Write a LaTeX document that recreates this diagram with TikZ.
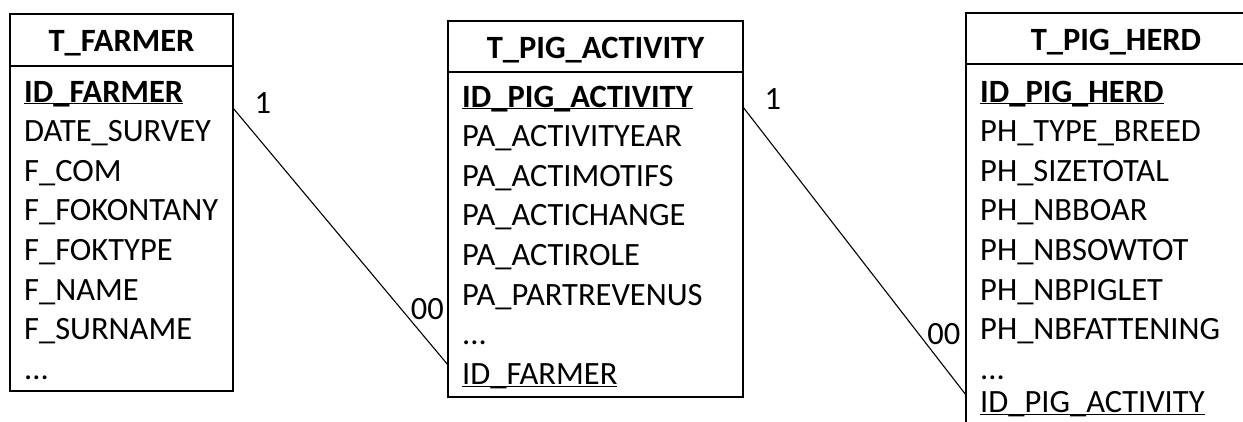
\documentclass[tikz,border=0pt]{standalone}
\usepackage{fontspec}
\setmainfont{Carlito}
\usetikzlibrary{positioning}
\newcommand{\keyline}[1]{\underline{\raisebox{0pt}[\height][0pt]{#1}}}

\begin{document}
\begin{tikzpicture}[x = 1pt, y = 1pt, node distance = 0pt,
		every node/.style = { font = \fontsize{32.5}{39}\selectfont },
		tabhead/.style = { draw, line width = 1.8pt, outer sep = 0pt, inner sep = 0pt, anchor = north west, minimum height = 52pt, text height = 24pt, text depth = 0pt, font = \fontsize{32.5}{39}\selectfont\bfseries },
		tabbody/.style = { draw, line width = 1.8pt, outer sep = 0pt, inner sep = 0pt },
		field/.style = { inner sep = 0pt, align = left, text width = 280pt, text height = 27.2pt, text depth = 12pt },
		card/.style = { inner sep = 0pt, anchor = base west },
		link/.style = { line width = 1.1pt }]
	\useasboundingbox (0, 0) rectangle (1243, 421);

	% T_FARMER
	\node [tabhead, minimum width = 223pt] (fhead) at (10, 407) {T\_FARMER};
	\node [tabbody, minimum width = 223pt, minimum height = 325pt, below = of fhead] (fbody) {};
	\node [field, below right = 8.8pt and 14pt of fbody.north west] (f1) {\keyline{\textbf{ID\_FARMER}}};
	\node [field, below = of f1] (f2) {DATE\_SURVEY};
	\node [field, below = of f2] (f3) {F\_COM};
	\node [field, below = of f3] (f4) {F\_FOKONTANY};
	\node [field, below = of f4] (f5) {F\_FOKTYPE};
	\node [field, below = of f5] (f6) {F\_NAME};
	\node [field, below = of f6] (f7) {F\_SURNAME};
	\node [field, below = of f7] (f8) {...};

	% T_PIG_ACTIVITY
	\node [tabhead, minimum width = 295pt, minimum height = 51pt] (ahead) at (448, 400) {T\_PIG\_ACTIVITY};
	\node [tabbody, minimum width = 295pt, minimum height = 325pt, below = of ahead] (abody) {};
	\node [field, below right = 7.8pt and 14pt of abody.north west] (a1) {\keyline{\textbf{ID\_PIG\_ACTIVITY}}};
	\node [field, below = of a1] (a2) {PA\_ACTIVITYEAR};
	\node [field, below = of a2] (a3) {PA\_ACTIMOTIFS};
	\node [field, below = of a3] (a4) {PA\_ACTICHANGE};
	\node [field, below = of a4] (a5) {PA\_ACTIROLE};
	\node [field, below = of a5] (a6) {PA\_PARTREVENUS};
	\node [field, below = of a6] (a7) {...};
	\node [field, below = of a7] (a8) {\keyline{ID\_FARMER}};

	% T_PIG_HERD (runs off the right and bottom edges)
	\node [tabhead, minimum width = 300pt, minimum height = 51pt] (hhead) at (966, 408) {T\_PIG\_HERD};
	\node [tabbody, minimum width = 300pt, minimum height = 380pt, below = of hhead] (hbody) {};
	\node [field, below right = 10.8pt and 14pt of hbody.north west] (h1) {\keyline{\textbf{ID\_PIG\_HERD}}};
	\node [field, below = of h1] (h2) {PH\_TYPE\_BREED};
	\node [field, below = of h2] (h3) {PH\_SIZETOTAL};
	\node [field, below = of h3] (h4) {PH\_NBBOAR};
	\node [field, below = of h4] (h5) {PH\_NBSOWTOT};
	\node [field, below = of h5] (h6) {PH\_NBPIGLET};
	\node [field, below = of h6] (h7) {PH\_NBFATTENING};
	\node [field, below = of h7] (h8) {...};
	\node [field, below = -6.2pt of h8] (h9) {\keyline{ID\_PIG\_ACTIVITY}};

	\draw [link] ([yshift = -42pt]fbody.north east) -- node [card, pos = 0, xshift = 21pt, yshift = -6pt] (one1) {1} node [card, pos = 0.82, xshift = 1pt, yshift = -1pt] (many1) {00} ([yshift = 32pt]abody.south west);
	\draw [link] ([yshift = -35pt]abody.north east) -- node [card, pos = 0, xshift = 21pt, yshift = -3pt] (one2) {1} node [card, pos = 0.82, xshift = 1pt, yshift = -1pt] (many2) {00} ([yshift = -331pt]hbody.north west);
\end{tikzpicture}
\end{document}
